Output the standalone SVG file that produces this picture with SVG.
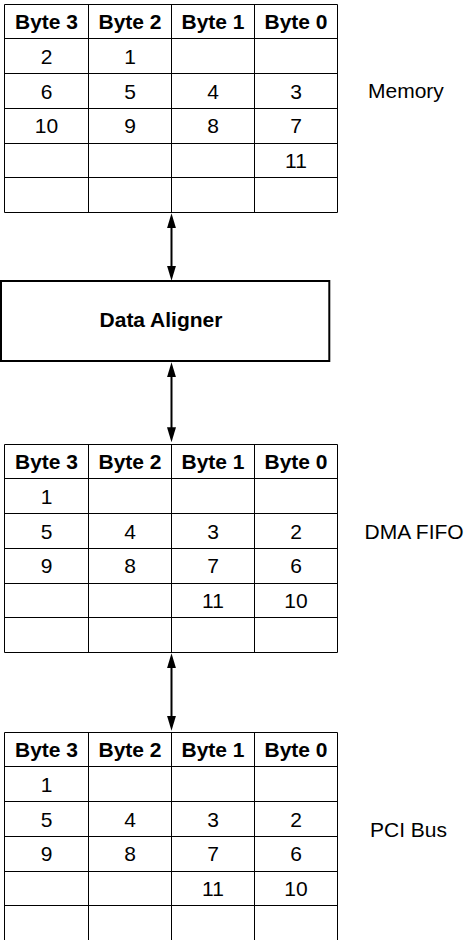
<svg xmlns="http://www.w3.org/2000/svg" xmlns:xlink="http://www.w3.org/1999/xlink" width="469" height="940" viewBox="0 0 469 940">
<style>
.grid{fill:none;stroke:#000;stroke-width:1}
.h{font-family:"Liberation Sans",Arial,sans-serif;font-weight:bold;font-size:21px;text-anchor:middle;fill:#000}
.c{font-family:"Liberation Sans",Arial,sans-serif;font-size:21px;text-anchor:middle;fill:#000}
.lbl{font-family:"Liberation Sans",Arial,sans-serif;font-size:21px;fill:#000}
.box{fill:#fff;stroke:#000;stroke-width:2}
.conn{stroke:#000;stroke-width:2;fill:none;marker-start:url(#ah);marker-end:url(#ah)}
</style>
<defs>
<marker id="ah" viewBox="0 0 15 9" refX="5" refY="4.5" markerWidth="15" markerHeight="9" markerUnits="userSpaceOnUse" orient="auto-start-reverse">
<path d="M0,0 L15,4.5 L0,9 Z" fill="#000"/>
</marker>
<path id="gridp" class="grid" d="M4.5,4.5 H337.5 V212.5 H4.5 Z M4.5,38.5 H337.5 M4.5,73.5 H337.5 M4.5,108.5 H337.5 M4.5,143.5 H337.5 M4.5,177.5 H337.5 M88.5,4.5 V212.5 M171.5,4.5 V212.5 M254.5,4.5 V212.5"/>
</defs>
<rect width="469" height="940" fill="#fff"/>

<g id="memory">
<use xlink:href="#gridp"/>
<text class="h" x="46.5" y="29.3">Byte 3</text>
<text class="h" x="130" y="29.3">Byte 2</text>
<text class="h" x="213" y="29.3">Byte 1</text>
<text class="h" x="296" y="29.3">Byte 0</text>
<text class="c" x="46.5" y="63.5">2</text>
<text class="c" x="130" y="63.5">1</text>
<text class="c" x="46.5" y="98.5">6</text>
<text class="c" x="130" y="98.5">5</text>
<text class="c" x="213" y="98.5">4</text>
<text class="c" x="296" y="98.5">3</text>
<text class="c" x="46.5" y="133.3">10</text>
<text class="c" x="130" y="133.3">9</text>
<text class="c" x="213" y="133.3">8</text>
<text class="c" x="296" y="133.3">7</text>
<text class="c" x="296" y="168">11</text>
<text class="lbl" x="368" y="98.3">Memory</text>
</g>

<g id="aligner">
<rect class="box" x="1" y="281" width="328.3" height="80"/>
<text class="h" x="161" y="326.7">Data Aligner</text>
</g>

<g id="dmafifo">
<use xlink:href="#gridp" y="440"/>
<text class="h" x="46.5" y="469.3">Byte 3</text>
<text class="h" x="130" y="469.3">Byte 2</text>
<text class="h" x="213" y="469.3">Byte 1</text>
<text class="h" x="296" y="469.3">Byte 0</text>
<text class="c" x="46.5" y="503.5">1</text>
<text class="c" x="46.5" y="538.5">5</text>
<text class="c" x="130" y="538.5">4</text>
<text class="c" x="213" y="538.5">3</text>
<text class="c" x="296" y="538.5">2</text>
<text class="c" x="46.5" y="573.3">9</text>
<text class="c" x="130" y="573.3">8</text>
<text class="c" x="213" y="573.3">7</text>
<text class="c" x="296" y="573.3">6</text>
<text class="c" x="213" y="608">11</text>
<text class="c" x="296" y="608">10</text>
<text class="lbl" x="364.5" y="539.3">DMA FIFO</text>
</g>

<g id="pcibus">
<use xlink:href="#gridp" y="728"/>
<text class="h" x="46.5" y="757.3">Byte 3</text>
<text class="h" x="130" y="757.3">Byte 2</text>
<text class="h" x="213" y="757.3">Byte 1</text>
<text class="h" x="296" y="757.3">Byte 0</text>
<text class="c" x="46.5" y="791.5">1</text>
<text class="c" x="46.5" y="826.5">5</text>
<text class="c" x="130" y="826.5">4</text>
<text class="c" x="213" y="826.5">3</text>
<text class="c" x="296" y="826.5">2</text>
<text class="c" x="46.5" y="861.3">9</text>
<text class="c" x="130" y="861.3">8</text>
<text class="c" x="213" y="861.3">7</text>
<text class="c" x="296" y="861.3">6</text>
<text class="c" x="213" y="896">11</text>
<text class="c" x="296" y="896">10</text>
<text class="lbl" x="370" y="837">PCI Bus</text>
</g>

<g id="connectors">
<line class="conn" x1="171.5" y1="223.3" x2="171.5" y2="270.7"/>
<line class="conn" x1="171.5" y1="372.3" x2="171.5" y2="432.3"/>
<line class="conn" x1="171.5" y1="663.3" x2="171.5" y2="720.7"/>
</g>
</svg>
